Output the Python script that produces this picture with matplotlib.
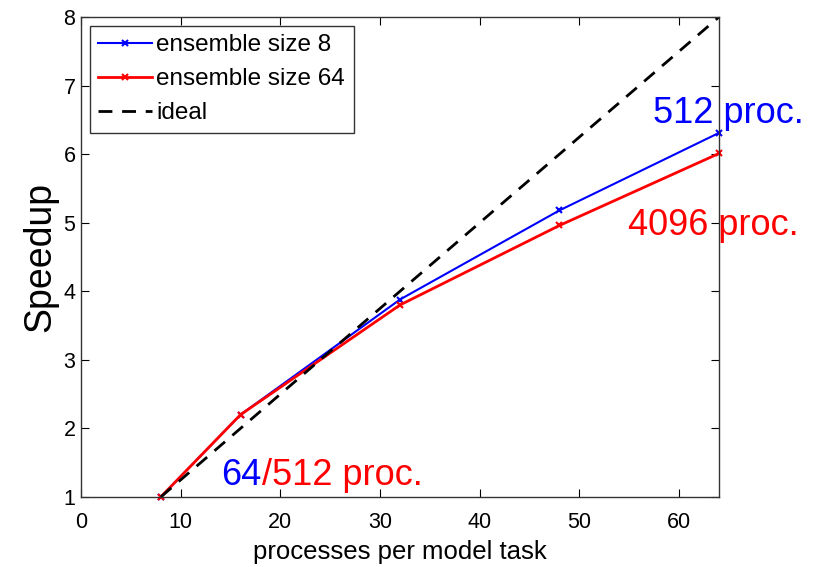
import matplotlib
matplotlib.use("Agg")
import matplotlib.pyplot as plt

plt.rcParams['font.family'] = ['Liberation Sans', 'DejaVu Sans']

procs_per_task = [8, 16, 32, 48, 64]
speedup_ens8 = [1.0, 2.2, 3.88, 5.18, 6.31]
speedup_ens64 = [1.0, 2.2, 3.80, 4.96, 6.01]
ideal_x = [8, 64]
ideal_y = [1, 8]
xticks = [0, 10, 20, 30, 40, 50, 60]
yticks = [1, 2, 3, 4, 5, 6, 7, 8]

fig = plt.figure(figsize=(8.2, 5.67), dpi=100)
ax = fig.add_axes([0.0988, 0.1235, 0.7780, 0.8465])

ax.plot(procs_per_task, speedup_ens8, color='blue', lw=1.5, marker='x', ms=5, mew=1.5,
        label='ensemble size 8', clip_on=False)
ax.plot(procs_per_task, speedup_ens64, color='red', lw=2.0, marker='x', ms=5, mew=1.5,
        label='ensemble size 64', clip_on=False)
ax.plot(ideal_x, ideal_y, color='black', lw=2.0, ls=(0, (5, 3.5)), label='ideal')

ax.set_xlim(0, 64)
ax.set_ylim(1, 8)
ax.set_xticks(xticks)
ax.set_yticks(yticks)
ax.tick_params(direction='in', top=True, right=True, labelsize=15.5, length=6)
ax.tick_params(axis='x', pad=11)
ax.tick_params(axis='y', pad=4)
for s in ax.spines.values():
    s.set_linewidth(1.0)
    s.set_color('#333333')

ax.set_ylabel('Speedup', fontsize=27, labelpad=4)
ax.set_xlabel('processes per model task', fontsize=18.5, labelpad=5)

leg = ax.legend(loc='upper left', fontsize=17.5, handlelength=2.2, handletextpad=0.2,
                borderpad=0.35, labelspacing=0.5, fancybox=False, framealpha=1,
                edgecolor='#333333', borderaxespad=0.35)
leg.get_frame().set_linewidth(1.0)

ax.text(57.4, 6.45, '512 proc.', color='blue', fontsize=26, clip_on=False, zorder=0)
ax.text(54.9, 4.82, '4096 proc.', color='red', fontsize=26, clip_on=False, zorder=0)
t1 = ax.text(14.1, 1.17, '64', color='blue', fontsize=26, zorder=0)
ax.annotate('/512 proc.', xycoords=t1, xy=(1, 0), va='bottom', color='red', fontsize=26, zorder=0)

fig.savefig('out.png', dpi=100)
